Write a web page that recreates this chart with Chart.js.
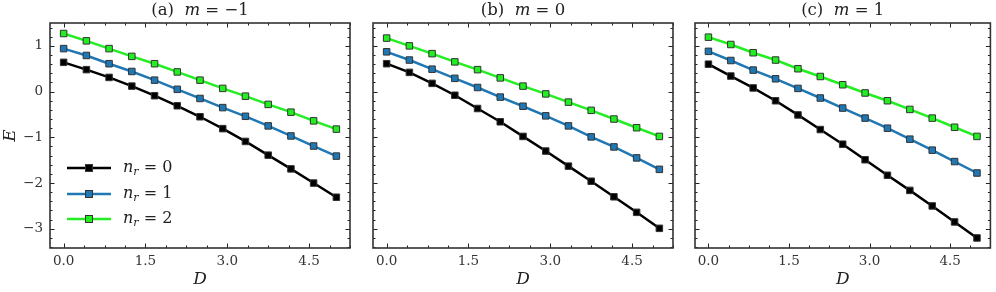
<!DOCTYPE html>
<html>
<head>
<meta charset="utf-8">
<script src="https://cdn.jsdelivr.net/npm/chart.js@4.4.1/dist/chart.umd.min.js"></script>
<style>
  body { margin: 0; background: #fff; }
  #wrap { position: relative; width: 996px; height: 292px; }
  canvas { position: absolute; top: 0; }
</style>
</head>
<body>
<div id="wrap">
  <canvas id="pa" width="360" height="292" style="left:0px"></canvas>
  <canvas id="pb" width="325" height="292" style="left:355px"></canvas>
  <canvas id="pc" width="316" height="292" style="left:680px"></canvas>
</div>
<script>
// D values (13 points)
var D = [0, 0.417, 0.833, 1.25, 1.667, 2.083, 2.5, 2.917, 3.333, 3.75, 4.167, 4.583, 5];

// (a) m = -1
var eA0 = [0.64, 0.48, 0.31, 0.12, -0.09, -0.31, -0.55, -0.81, -1.09, -1.39, -1.69, -2.00, -2.31];
var eA1 = [0.94, 0.79, 0.61, 0.44, 0.25, 0.05, -0.15, -0.35, -0.54, -0.75, -0.97, -1.19, -1.41];
var eA2 = [1.27, 1.11, 0.94, 0.77, 0.61, 0.43, 0.25, 0.07, -0.10, -0.28, -0.45, -0.64, -0.82];
// (b) m = 0
var eB0 = [0.61, 0.42, 0.18, -0.08, -0.37, -0.66, -0.98, -1.30, -1.63, -1.96, -2.30, -2.64, -2.99];
var eB1 = [0.87, 0.69, 0.49, 0.29, 0.09, -0.12, -0.32, -0.53, -0.75, -0.99, -1.21, -1.45, -1.70];
var eB2 = [1.17, 1.00, 0.83, 0.65, 0.48, 0.30, 0.12, -0.05, -0.23, -0.41, -0.60, -0.79, -0.98];
// (c) m = 1
var eC0 = [0.60, 0.34, 0.08, -0.20, -0.51, -0.83, -1.15, -1.49, -1.83, -2.16, -2.50, -2.85, -3.20];
var eC1 = [0.88, 0.68, 0.47, 0.28, 0.07, -0.14, -0.36, -0.58, -0.80, -1.04, -1.28, -1.53, -1.78];
var eC2 = [1.19, 1.03, 0.85, 0.69, 0.50, 0.33, 0.15, -0.03, -0.20, -0.39, -0.58, -0.78, -0.98];

var nrLabels = ['0', '1', '2'];
var panelTags = ['(a)', '(b)', '(c)'];
var panelM = ['\u22121', '0', '1'];

var xTicks = [0, 1.5, 3, 4.5];
var yTicks = [-3, -2, -1, 0, 1];

var FONT = "'DejaVu Serif', 'Liberation Serif', serif";
var lineColors = ['#000000', '#1f77b4', '#22ee22'];
var edgeColor = '#333333';

function fmtY(v) {
  return v < 0 ? '\u2212' + Math.abs(v) : String(v);
}

function pts(ys) {
  return D.map(function(d, i) { return { x: d, y: ys[i] }; });
}

// frame, inward ticks, panel title and (optional) legend
var decorPlugin = {
  id: 'decor',
  afterDatasetsDraw: function(chart, args, opts) {
    var ctx = chart.ctx, a = chart.chartArea;
    var xs = chart.scales.x, ys = chart.scales.y;
    ctx.save();
    ctx.strokeStyle = '#222';
    ctx.lineWidth = 1;
    ctx.beginPath();
    var v, p, len;
    for (v = Math.ceil(xs.min / 0.375) * 0.375; v <= xs.max + 1e-9; v += 0.375) {
      p = Math.round(xs.getPixelForValue(v)) + 0.5;
      len = xTicks.some(function(t) { return Math.abs(t - v) < 1e-6; }) ? 4.5 : 2.5;
      ctx.moveTo(p, a.bottom); ctx.lineTo(p, a.bottom - len);
      ctx.moveTo(p, a.top); ctx.lineTo(p, a.top + len);
    }
    for (v = Math.ceil(ys.min / 0.2) * 0.2; v <= ys.max + 1e-9; v += 0.2) {
      p = Math.round(ys.getPixelForValue(v)) + 0.5;
      len = yTicks.some(function(t) { return Math.abs(t - v) < 1e-6; }) ? 4.5 : 2.5;
      ctx.moveTo(a.left, p); ctx.lineTo(a.left + len, p);
      ctx.moveTo(a.right, p); ctx.lineTo(a.right - len, p);
    }
    ctx.stroke();
    ctx.lineWidth = 1.6;
    ctx.strokeStyle = '#333';
    ctx.strokeRect(a.left, a.top, a.right - a.left, a.bottom - a.top);

    // title: "(x)  m = v"
    var cx = (a.left + a.right) / 2, ty = 11;
    var fN = '16.5px ' + FONT, fI = 'italic 16.5px ' + FONT;
    var parts = [[opts.tag + '  ', fN], ['m', fI], [' = ' + opts.m, fN]];
    var w = 0;
    parts.forEach(function(pt) { ctx.font = pt[1]; w += ctx.measureText(pt[0]).width; });
    var x = cx - w / 2;
    ctx.fillStyle = '#222';
    ctx.textBaseline = 'middle';
    parts.forEach(function(pt) {
      ctx.font = pt[1]; ctx.fillText(pt[0], x, ty); x += ctx.measureText(pt[0]).width;
    });

    if (opts.legend) {
      var rows = [168, 194, 219];
      chart.data.datasets.forEach(function(ds, i) {
        var y = rows[i];
        ctx.strokeStyle = ds.borderColor;
        ctx.lineWidth = ds.borderWidth;
        ctx.beginPath(); ctx.moveTo(67, y); ctx.lineTo(111, y); ctx.stroke();
        ctx.fillStyle = ds.pointBackgroundColor;
        ctx.strokeStyle = ds.pointBorderColor;
        ctx.lineWidth = 1;
        ctx.fillRect(85.5, y - 3.5, 7, 7);
        ctx.strokeRect(85.5, y - 3.5, 7, 7);
        ctx.fillStyle = '#222';
        var tx = 123;
        ctx.font = 'italic 16px ' + FONT; ctx.fillText('n', tx, y); tx += ctx.measureText('n').width;
        ctx.font = 'italic 11px ' + FONT; ctx.fillText('r', tx, y + 4); tx += ctx.measureText('r').width;
        ctx.font = '16px ' + FONT; ctx.fillText(' = ' + nrLabels[i], tx, y);
      });
    }
    ctx.restore();
  }
};

function makeChart(id, series, idx, yWidth, padRight) {
  var datasets = series.map(function(ys, i) {
    return {
      label: 'n_r = ' + nrLabels[i],
      data: pts(ys),
      borderColor: lineColors[i],
      borderWidth: 2.5,
      pointStyle: 'rect',
      pointRadius: 4.6,
      pointBackgroundColor: lineColors[i],
      pointBorderColor: edgeColor,
      pointBorderWidth: 1,
      tension: 0
    };
  });
  return new Chart(document.getElementById(id), {
    type: 'line',
    data: { datasets: datasets },
    options: {
      responsive: false,
      animation: false,
      layout: { padding: { top: 23, right: padRight, bottom: 0, left: 0 } },
      plugins: {
        legend: { display: false },
        tooltip: { enabled: false },
        decor: { tag: panelTags[idx], m: panelM[idx], legend: idx === 0 }
      },
      scales: {
        x: {
          type: 'linear',
          min: -0.25, max: 5.25,
          grid: { display: false, drawTicks: false },
          border: { display: false },
          afterBuildTicks: function(s) { s.ticks = xTicks.map(function(v) { return { value: v }; }); },
          afterFit: function(s) { s.height = 44; },
          ticks: {
            padding: 5,
            color: '#333',
            font: { family: FONT, size: 13.5 },
            callback: function(v) { return v.toFixed(1); }
          },
          title: {
            display: true, text: 'D', color: '#222',
            font: { family: FONT, size: 17, style: 'italic' },
            padding: { top: 0, bottom: 2 }
          }
        },
        y: {
          type: 'linear',
          min: -3.42, max: 1.5,
          grid: { display: false, drawTicks: false },
          border: { display: false },
          afterBuildTicks: function(s) { s.ticks = yTicks.map(function(v) { return { value: v }; }); },
          afterFit: function(s) { s.width = yWidth; },
          ticks: {
            display: idx === 0,
            padding: 7,
            color: '#333',
            font: { family: FONT, size: 13.5 },
            callback: function(v) { return fmtY(v); }
          },
          title: {
            display: idx === 0, text: 'E', color: '#222',
            font: { family: FONT, size: 17, style: 'italic' },
            padding: { top: 0, bottom: 0 }
          }
        }
      }
    },
    plugins: [decorPlugin]
  });
}

makeChart('pa', [eA0, eA1, eA2], 0, 50, 10);
makeChart('pb', [eB0, eB1, eB2], 1, 18, 7);
makeChart('pc', [eC0, eC1, eC2], 2, 15, 1);
</script>
</body>
</html>
